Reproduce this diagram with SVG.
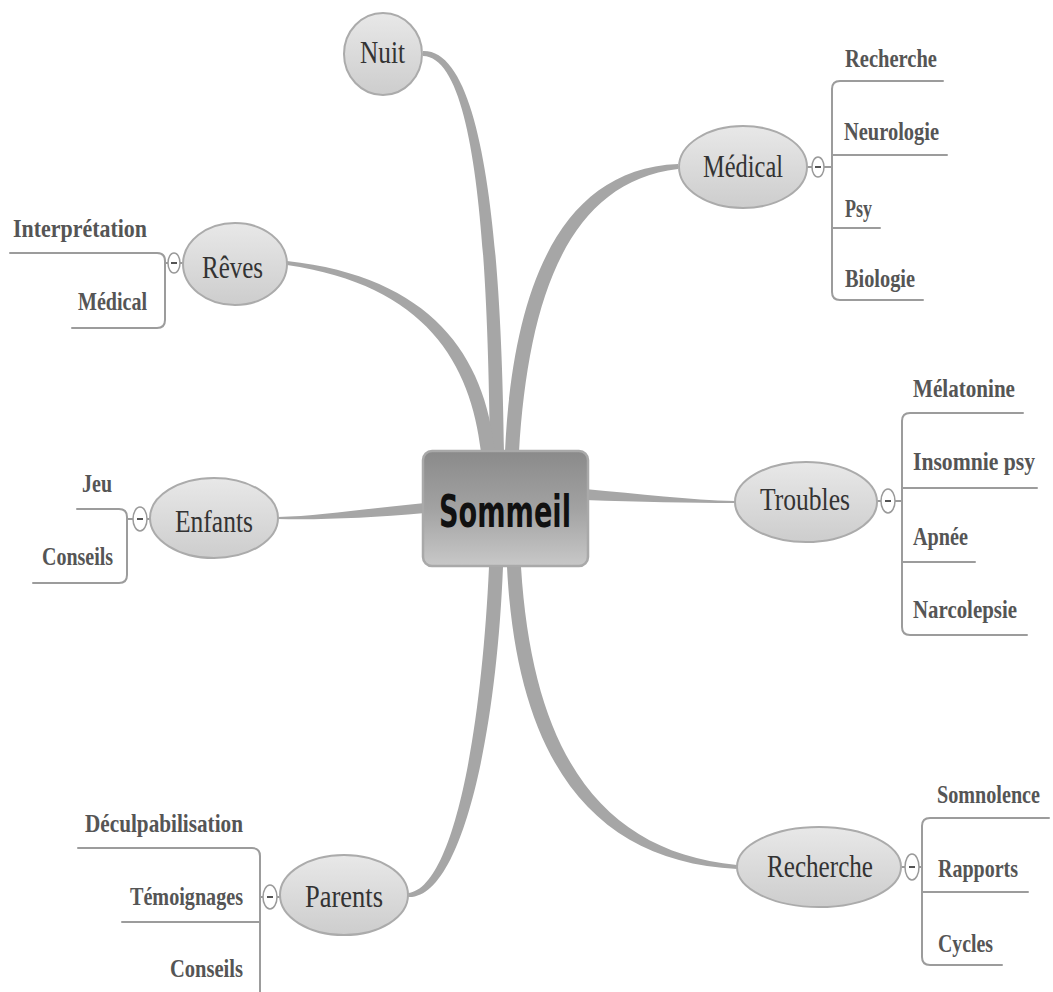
<svg xmlns="http://www.w3.org/2000/svg" width="1053" height="992" viewBox="0 0 1053 992">
<defs>
<linearGradient id="centerGrad" x1="0" y1="0" x2="0" y2="1">
<stop offset="0" stop-color="#8a8a8a"/>
<stop offset="0.5" stop-color="#a2a2a2"/>
<stop offset="1" stop-color="#c8c8c8"/>
</linearGradient>
<linearGradient id="nodeGrad" x1="0" y1="0" x2="0" y2="1">
<stop offset="0" stop-color="#e8e8e8"/>
<stop offset="1" stop-color="#cdcdcd"/>
</linearGradient>
<style>
.branch{fill:#a6a6a6}
.line{fill:none;stroke:#9c9c9c;stroke-width:2;stroke-linecap:round}
.ell{fill:url(#nodeGrad);stroke:#ababab;stroke-width:2}
.tog{fill:#ffffff;stroke:#9a9a9a;stroke-width:1.5}
.dash{stroke:#555;stroke-width:2}
.lbl{font-family:"Liberation Serif",serif;font-size:32px;fill:#333}
.leaf{font-family:"Liberation Serif",serif;font-weight:bold;font-size:25px;fill:#555}
.main{font-family:"DejaVu Sans","Liberation Sans",sans-serif;font-weight:bold;font-size:44px;fill:#111}
</style>
</defs>
<rect width="1053" height="992" fill="#ffffff"/>

<g id="connectors">
<path class="branch" d="M 490,452 C 488,300 482,57 423,56 L 423,51 C 492,49 502,300 504,452 Z"/>
<path class="branch" d="M 495,452 C 485,356 432,277 287,261 L 287,265 C 426,285 471,364 481,452 Z"/>
<path class="branch" d="M 505,452 C 512,298 555,169 678,164 L 678,169 C 566,182 528,302 519,452 Z"/>
<path class="branch" d="M 425,503 C 370,508 320,516 278,517 L 278,519 C 320,520 370,518 425,513 Z"/>
<path class="branch" d="M 585,489 C 640,494 690,500 735,501 L 735,503 C 690,503 640,502 585,500 Z"/>
<path class="branch" d="M 489,567 C 481,740 452,889 408,893 L 408,897 C 460,900 496,742 503,567 Z"/>
<path class="branch" d="M 507,567 C 517,765 596,862 737,869 L 737,865 C 604,852 533,758 521,567 Z"/>
<!-- Médical -->
<path class="line" d="M 807,167 L 812,167 M 824,167 L 832,167"/>
<path class="line" d="M 943,81 L 840,81 Q 832,81 832,89 L 832,292 Q 832,300 840,300 L 923,300 M 832,155 L 947,155 M 832,228 L 880,228"/>
<!-- Rêves -->
<path class="line" d="M 183,263 L 180,263 M 168,263 L 165,263"/>
<path class="line" d="M 10,253 L 157,253 Q 165,253 165,261 L 165,320 Q 165,328 157,328 L 72,328"/>
<!-- Enfants -->
<path class="line" d="M 150,519 L 147,519 M 133,519 L 127,519"/>
<path class="line" d="M 77,509 L 119,509 Q 127,509 127,517 L 127,575 Q 127,583 119,583 L 33,583"/>
<!-- Troubles -->
<path class="line" d="M 877,501 L 881,501 M 895,501 L 902,501"/>
<path class="line" d="M 1023,413 L 910,413 Q 902,413 902,421 L 902,627 Q 902,635 910,635 L 1027,635 M 902,488 L 1037,488 M 902,562 L 975,562"/>
<!-- Recherche -->
<path class="line" d="M 902,867 L 905,867 M 919,867 L 922,867"/>
<path class="line" d="M 1049,818 L 930,818 Q 922,818 922,826 L 922,957 Q 922,965 930,965 L 1002,965 M 922,892 L 1028,892"/>
<!-- Parents -->
<path class="line" d="M 280,897 L 277,897 M 263,897 L 260,897"/>
<path class="line" d="M 78,848 L 252,848 Q 260,848 260,856 L 260,1000 M 260,922 L 122,922"/>
</g>

<g id="node-sommeil">
<rect x="423" y="451" width="165" height="115" rx="9" fill="url(#centerGrad)" stroke="#a9a9a9" stroke-width="2.5"/>
<text class="main" x="439" y="527" textLength="132" lengthAdjust="spacingAndGlyphs">Sommeil</text>
</g>

<g id="node-nuit">
<ellipse class="ell" cx="383" cy="54" rx="39" ry="41"/>
<text class="lbl" x="360" y="63" textLength="45" lengthAdjust="spacingAndGlyphs">Nuit</text>
</g>

<g id="node-medical">
<ellipse class="ell" cx="743" cy="167" rx="64" ry="41"/>
<text class="lbl" x="703" y="177" textLength="80" lengthAdjust="spacingAndGlyphs">Médical</text>
<ellipse class="tog" cx="818" cy="167" rx="6" ry="10"/>
<line class="dash" x1="815" y1="167" x2="821" y2="167"/>
</g>
<g id="leaf-recherche-med"><text class="leaf" x="845" y="67" textLength="92" lengthAdjust="spacingAndGlyphs">Recherche</text></g>
<g id="leaf-neurologie"><text class="leaf" x="844" y="140" textLength="95" lengthAdjust="spacingAndGlyphs">Neurologie</text></g>
<g id="leaf-psy"><text class="leaf" x="845" y="217" textLength="27" lengthAdjust="spacingAndGlyphs">Psy</text></g>
<g id="leaf-biologie"><text class="leaf" x="845" y="287" textLength="70" lengthAdjust="spacingAndGlyphs">Biologie</text></g>

<g id="node-reves">
<ellipse class="ell" cx="235" cy="264" rx="52" ry="41"/>
<text class="lbl" x="202" y="278" textLength="61" lengthAdjust="spacingAndGlyphs">Rêves</text>
<ellipse class="tog" cx="174" cy="263" rx="6" ry="10"/>
<line class="dash" x1="171" y1="263" x2="177" y2="263"/>
</g>
<g id="leaf-interpretation"><text class="leaf" x="13" y="237" textLength="134" lengthAdjust="spacingAndGlyphs">Interprétation</text></g>
<g id="leaf-medical-reves"><text class="leaf" x="78" y="310" textLength="69" lengthAdjust="spacingAndGlyphs">Médical</text></g>

<g id="node-enfants">
<ellipse class="ell" cx="214" cy="518" rx="64" ry="40"/>
<text class="lbl" x="175" y="532" textLength="78" lengthAdjust="spacingAndGlyphs">Enfants</text>
<ellipse class="tog" cx="140" cy="519" rx="7" ry="12"/>
<line class="dash" x1="137" y1="519" x2="143" y2="519"/>
</g>
<g id="leaf-jeu"><text class="leaf" x="82" y="492" textLength="30" lengthAdjust="spacingAndGlyphs">Jeu</text></g>
<g id="leaf-conseils-enfants"><text class="leaf" x="42" y="565" textLength="71" lengthAdjust="spacingAndGlyphs">Conseils</text></g>

<g id="node-troubles">
<ellipse class="ell" cx="806" cy="502" rx="71" ry="40"/>
<text class="lbl" x="760" y="510" textLength="90" lengthAdjust="spacingAndGlyphs">Troubles</text>
<ellipse class="tog" cx="888" cy="501" rx="7" ry="12"/>
<line class="dash" x1="885" y1="501" x2="891" y2="501"/>
</g>
<g id="leaf-melatonine"><text class="leaf" x="913" y="397" textLength="102" lengthAdjust="spacingAndGlyphs">Mélatonine</text></g>
<g id="leaf-insomnie"><text class="leaf" x="913" y="470" textLength="122" lengthAdjust="spacingAndGlyphs">Insomnie psy</text></g>
<g id="leaf-apnee"><text class="leaf" x="913" y="545" textLength="55" lengthAdjust="spacingAndGlyphs">Apnée</text></g>
<g id="leaf-narcolepsie"><text class="leaf" x="913" y="618" textLength="104" lengthAdjust="spacingAndGlyphs">Narcolepsie</text></g>

<g id="node-recherche">
<ellipse class="ell" cx="819" cy="867" rx="82" ry="40"/>
<text class="lbl" x="767" y="877" textLength="106" lengthAdjust="spacingAndGlyphs">Recherche</text>
<ellipse class="tog" cx="912" cy="867" rx="7" ry="13"/>
<line class="dash" x1="909" y1="867" x2="915" y2="867"/>
</g>
<g id="leaf-somnolence"><text class="leaf" x="937" y="803" textLength="103" lengthAdjust="spacingAndGlyphs">Somnolence</text></g>
<g id="leaf-rapports"><text class="leaf" x="938" y="877" textLength="80" lengthAdjust="spacingAndGlyphs">Rapports</text></g>
<g id="leaf-cycles"><text class="leaf" x="938" y="952" textLength="55" lengthAdjust="spacingAndGlyphs">Cycles</text></g>

<g id="node-parents">
<ellipse class="ell" cx="344" cy="895" rx="64" ry="40"/>
<text class="lbl" x="305" y="907" textLength="78" lengthAdjust="spacingAndGlyphs">Parents</text>
<ellipse class="tog" cx="270" cy="897" rx="7" ry="12"/>
<line class="dash" x1="267" y1="897" x2="273" y2="897"/>
</g>
<g id="leaf-deculpabilisation"><text class="leaf" x="85" y="832" textLength="158" lengthAdjust="spacingAndGlyphs">Déculpabilisation</text></g>
<g id="leaf-temoignages"><text class="leaf" x="130" y="905" textLength="113" lengthAdjust="spacingAndGlyphs">Témoignages</text></g>
<g id="leaf-conseils-parents"><text class="leaf" x="170" y="977" textLength="73" lengthAdjust="spacingAndGlyphs">Conseils</text></g>
</svg>
